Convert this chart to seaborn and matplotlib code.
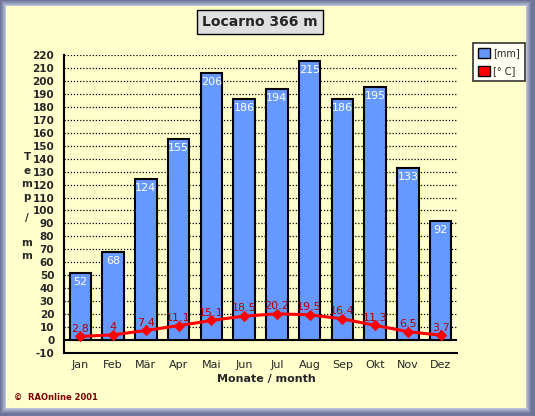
import numpy as np
import pandas as pd
import matplotlib
matplotlib.use("Agg")
import matplotlib.pyplot as plt
from matplotlib.patches import Rectangle, Patch
import seaborn as sns

months = ["Jan", "Feb", "Mär", "Apr", "Mai", "Jun", "Jul", "Aug", "Sep", "Okt", "Nov", "Dez"]
precip = [52, 68, 124, 155, 206, 186, 194, 215, 186, 195, 133, 92]
temp = [2.8, 4, 7.4, 11.1, 15.1, 18.5, 20.2, 19.5, 16.4, 11.3, 6.5, 3.7]
temp_labels = ["2.8", "4", "7.4", "11.1", "15.1", "18.5", "20.2", "19.5", "16.4", "11.3", "6.5", "3.7"]

df = pd.DataFrame({"month": months, "mm": precip, "temp": temp})

W, H = 535, 416
bg = "#FFFFCC"
bar_col = "#6699FF"

sns.set_style("white")
plt.rcParams["font.family"] = ["DejaVu Sans"]

fig = plt.figure(figsize=(W / 100, H / 100), dpi=100)
fig.patch.set_facecolor("#6E7598")

# bevelled frame: nested rectangles from dark to light, then the yellow panel
frame_cols = ["#6E7598", "#7C84A6", "#8A92B3", "#99A1C0", "#A9B0CC", "#BAC0D8"]
for i, c in enumerate(frame_cols):
    fig.patches.append(Rectangle((i / W, (i + 2) / H), 1 - (2 * i + 3) / W, 1 - (2 * i + 2) / H,
                                 transform=fig.transFigure, facecolor=c, edgecolor="none", zorder=-10))
fig.patches.append(Rectangle((6 / W, 8 / H), 1 - 15 / W, 1 - 14 / H,
                             transform=fig.transFigure, facecolor=bg, edgecolor="none", zorder=-9))

ax = fig.add_axes([64 / W, 1 - 353 / H, (457 - 64) / W, (353 - 55) / H])
ax.set_facecolor("none")

sns.barplot(data=df, x="month", y="mm", color=bar_col, edgecolor="black", linewidth=1.5,
            width=0.66, saturation=1, ax=ax, zorder=3)
x = np.arange(len(months))
sns.lineplot(x=x, y=temp, color="#FF0000", linewidth=2.2, marker="D", markersize=5,
             markeredgecolor="#FF0000", sort=False, ax=ax, zorder=4)

for xi, v in zip(x, precip):
    ax.text(xi, v - 3, str(v), ha="center", va="top", color="white", fontsize=8, zorder=5)
for xi, v, lab in zip(x, temp, temp_labels):
    ax.text(xi, v + 2, lab, ha="center", va="bottom", color="#B00000", fontsize=8, zorder=5)

ax.set_ylim(-10, 220)
ax.set_xlim(-0.5, 11.5)
ax.set_yticks(np.arange(-10, 221, 10))
ax.set_yticklabels([str(t) for t in range(-10, 221, 10)], fontweight="bold", fontsize=7.5)
for t in range(10, 221, 10):
    ax.axhline(t, color="black", linestyle=(0, (1, 1.5)), linewidth=0.9, zorder=1)
ax.axhline(0, color="black", linewidth=1.5, zorder=2)

ax.set_xticks(x)
ax.set_xticklabels(months, fontsize=8)
ax.set_xticks(np.arange(-0.5, 12, 1), minor=True)
ax.tick_params(axis="x", which="major", length=0, pad=5)
ax.tick_params(axis="x", which="minor", length=5, width=1.2, direction="out", color="black")
ax.tick_params(axis="y", length=5, width=1.2, direction="out", color="black", pad=2)

for s in ["top", "right"]:
    ax.spines[s].set_visible(False)
for s in ["left", "bottom"]:
    ax.spines[s].set_color("black")
    ax.spines[s].set_linewidth(1.5)

ax.set_xlabel("")
ax.set_ylabel("")

fig.text(266 / W, 1 - 379 / H, "Monate / month", ha="center", va="center", fontsize=8, fontweight="bold")

for ch, yp in zip(["T", "e", "m", "p", "/", "m", "m"], [157, 171, 184, 197, 218, 243, 256]):
    fig.text(27 / W, 1 - yp / H, ch, ha="center", va="center", fontsize=7.5, fontweight="bold")

fig.text(260 / W, 1 - 22 / H, "Locarno 366 m", ha="center", va="center", fontsize=10, fontweight="bold",
         bbox=dict(boxstyle="square,pad=0.35", facecolor="#E0E0E0", edgecolor="black", linewidth=1))

fig.text(14 / W, 1 - 397 / H, "©  RAOnline 2001", ha="left", va="center", fontsize=6, fontweight="bold",
         color="#800000")

handles = [Patch(facecolor=bar_col, edgecolor="black", label="[mm]"),
           Patch(facecolor="#FF0000", edgecolor="black", label="[° C]")]
leg = fig.legend(handles=handles, loc="upper left", bbox_to_anchor=(473 / W, 1 - 43 / H),
                 frameon=True, fancybox=False, fontsize=7, handlelength=1.2, handleheight=1.2,
                 handletextpad=0.4, borderpad=0.5, labelspacing=0.8, borderaxespad=0)
leg.get_frame().set_edgecolor("black")
leg.get_frame().set_linewidth(1.2)
leg.get_frame().set_facecolor("white")

fig.savefig("out.png", dpi=100, facecolor=fig.get_facecolor())
